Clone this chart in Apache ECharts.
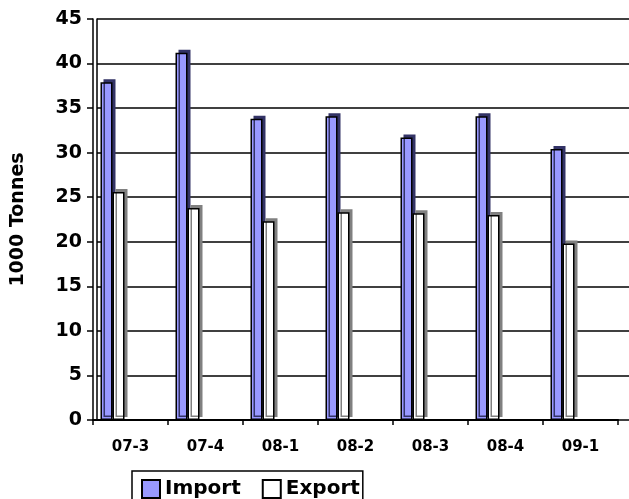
<!DOCTYPE html>
<html><head><meta charset="utf-8">
<script src="https://cdn.jsdelivr.net/npm/echarts@6/dist/echarts.min.js"></script>
<style>html,body{margin:0;padding:0;background:#fff}#c{width:629px;height:499px}</style>
</head><body><div id="c"></div>
<script>
const categories = ['07-3','07-4','08-1','08-2','08-3','08-4','09-1'];
const importValues = [37.9, 41.2, 33.8, 34.1, 31.7, 34.1, 30.4];
const exportValues = [25.6, 23.8, 22.3, 23.3, 23.2, 23.0, 19.8];
const yTicks = [0,5,10,15,20,25,30,35,40,45];

const chart = echarts.init(document.getElementById('c'));
const F = '"DejaVu Sans", Arial, sans-serif';
const dummy = n => ({type:'bar', name:'d'+n, xAxisIndex:1, yAxisIndex:1, data:[], barWidth:12, barGap:'0%'});
chart.setOption({
  animation:false,
  grid:[
    {left:97, right:0, top:19, bottom:79},
    {left:93, right:11, top:19, bottom:79}
  ],
  legend:{
    data:['Import','Export'], left:132, top:471, orient:'horizontal',
    borderColor:'#000', borderWidth:1.5, padding:[8,3,8,9],
    itemWidth:18, itemHeight:18, itemGap:21,
    textStyle:{fontFamily:F, fontWeight:'bold', fontSize:20, color:'#000', padding:[0,0,0,0]},
    icon:'rect'
  },
  xAxis:[
    {type:'category', gridIndex:0, data:categories, show:false},
    {type:'category', gridIndex:1, data:categories,
     axisLine:{lineStyle:{color:'#000', width:2}},
     axisTick:{show:true, length:5, lineStyle:{color:'#000', width:1.5}},
     axisLabel:{fontFamily:F, fontWeight:'bold', fontSize:15, color:'#000', margin:20}}
  ],
  yAxis:[
    {type:'value', gridIndex:0, min:0, max:45, interval:5,
     axisLine:{show:true, lineStyle:{color:'#000', width:1.5}},
     axisTick:{show:false}, axisLabel:{show:false},
     splitLine:{show:true, lineStyle:{color:'#000', width:1.5}}},
    {type:'value', gridIndex:1, min:0, max:45, interval:5,
     name:'1000 Tonnes', nameLocation:'middle', nameGap:65,
     nameTextStyle:{fontFamily:F, fontWeight:'bold', fontSize:19, color:'#000'},
     axisLine:{show:true, lineStyle:{color:'#000', width:1.5}},
     axisTick:{show:true, length:6, lineStyle:{color:'#000', width:1.5}},
     axisLabel:{fontFamily:F, fontWeight:'bold', fontSize:19, color:'#000', margin:11,
       formatter: v => yTicks.includes(v) ? String(v) : ''},
     splitLine:{show:false}}
  ],
  series:[
    {type:'bar', name:'Import', xAxisIndex:1, yAxisIndex:1, data:importValues, barWidth:12, barGap:'0%',
     itemStyle:{color:'#9999FF', borderColor:'#000', borderWidth:1.5,
       shadowColor:'#333366', shadowOffsetX:3, shadowOffsetY:-3, shadowBlur:0}},
    {type:'bar', name:'Export', xAxisIndex:1, yAxisIndex:1, data:exportValues, barWidth:12, barGap:'0%',
     itemStyle:{color:'#FFFFFF', borderColor:'#000', borderWidth:1.5,
       shadowColor:'#808080', shadowOffsetX:3, shadowOffsetY:-3, shadowBlur:0}},
    dummy(1), dummy(2), dummy(3)
  ]
});
</script></body></html>
